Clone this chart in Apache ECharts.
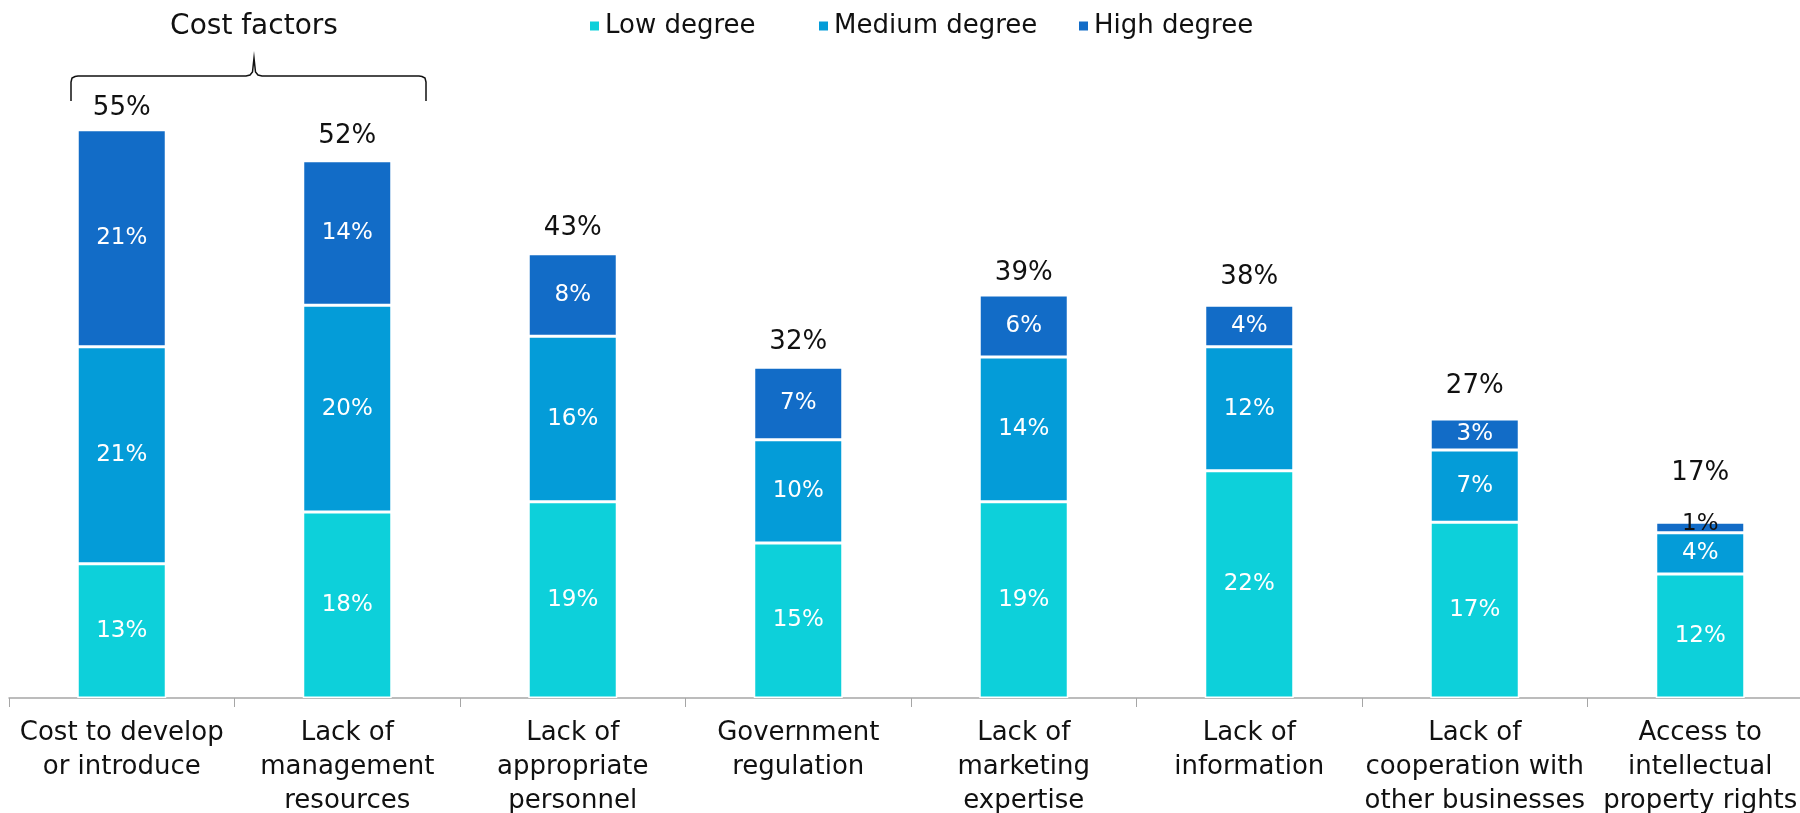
<!DOCTYPE html>
<html><head><meta charset="utf-8">
<script src="https://cdn.jsdelivr.net/npm/echarts@6/dist/echarts.min.js"></script>
<style>html,body{margin:0;padding:0;background:#fff}#c{width:1800px;height:813px}</style>
</head><body><div id="c"></div>
<script>
const categories = ['Cost to develop\nor introduce','Lack of\nmanagement\nresources','Lack of\nappropriate\npersonnel','Government\nregulation','Lack of\nmarketing\nexpertise','Lack of\ninformation','Lack of\ncooperation with\nother businesses','Access to\nintellectual\nproperty rights'];
const lowDegree = [13,18,19,15,19,22,17,12];
const mediumDegree = [21,20,16,10,14,12,7,4];
const highDegree = [21,14,8,7,6,4,3,1];
const totals = [55,52,43,32,39,38,27,17];
const seriesNames = ['Low degree','Medium degree','High degree'];
const colors = ['#0DD0DA','#049CD8','#126CC7'];
// extra lift (px) of the total labels, as placed in the original
const totalLabelLift = [0,3,4,4,1,7,12,28];
const FONT = '"DejaVu Sans"';

const chart = echarts.init(document.getElementById('c'));
const mk = (name, data, color) => ({
  name, type:'bar', stack:'t', data: data.map(v => v === 1 ? {value:v, label:{color:'#111', offset:[0,-3]}} : v),
  barWidth: 89, barGap:'-100%',
  itemStyle:{color, borderColor:'#fff', borderWidth:1.5},
  label:{show:true, position:'inside', color:'#fff', fontFamily:FONT, fontSize:23, formatter:'{c}%'}
});
const legendItem = (name, left) => ({data:[name], left, top:8, icon:'rect', itemWidth:11, itemHeight:11, itemGap:6,
  textStyle:{fontFamily:FONT, fontSize:26, color:'#111'}});
chart.setOption({
  animation:false,
  color: colors,
  legend:[legendItem(seriesNames[0],583),legendItem(seriesNames[1],812),legendItem(seriesNames[2],1072)],
  grid:{left:9, width:1804, top:78, bottom:115, containLabel:false, outerBoundsMode:'none'},
  xAxis:{type:'category', data:categories, axisLine:{lineStyle:{color:'#A6A6A6', width:1.5}},
    axisTick:{show:true, length:9, lineStyle:{color:'#A6A6A6'}},
    axisLabel:{interval:0, margin:18, fontFamily:FONT, fontSize:26, color:'#111', lineHeight:34}},
  yAxis:{type:'value', min:0, max:60, show:false, splitLine:{show:false}},
  series:[
    mk(seriesNames[0], lowDegree, colors[0]),
    mk(seriesNames[1], mediumDegree, colors[1]),
    mk(seriesNames[2], highDegree, colors[2]),
    {name:'Total', type:'bar', data:totals.map((v,i)=>({value:v, label:{offset:[0,-totalLabelLift[i]]}})), barWidth:89, barGap:'-100%', z:1, silent:true,
     itemStyle:{color:'transparent'},
     label:{show:true, position:'top', distance:8, color:'#111', fontFamily:FONT, fontSize:26, formatter:'{c}%'}}
  ],
  graphic:[
    {type:'text', x:254, y:27, style:{text:'Cost factors', fontFamily:FONT, fontSize:28, fill:'#111', align:'center', verticalAlign:'middle'}},
    {type:'polyline', shape:{points:[[71,101],[71,82],[72,78],[75,76.5],[78,76],[246,76],[250,75],[252.5,72],[254,58],[255.5,72],[258,75],[262,76],[419,76],[422,76.5],[425,78],[426,82],[426,101]]},
     style:{fill:null, stroke:'#111', lineWidth:1.5}}
  ]
});
</script></body></html>
